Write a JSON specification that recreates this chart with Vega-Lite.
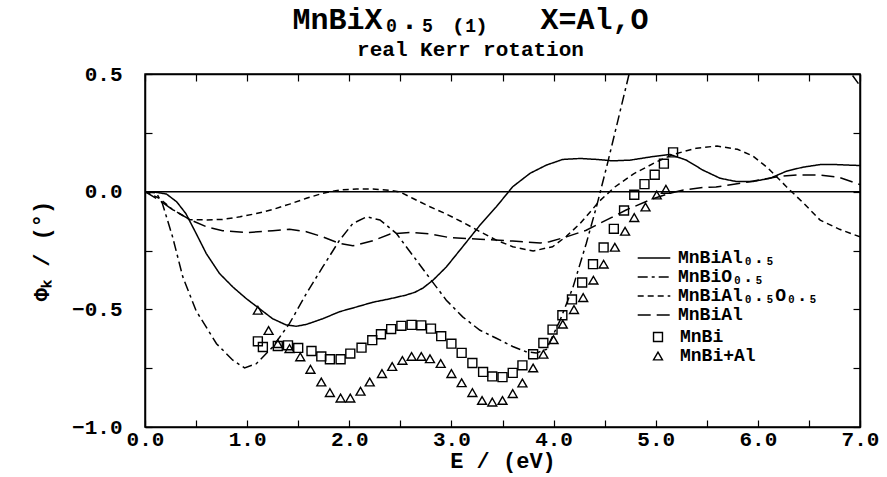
{
  "$schema": "https://vega.github.io/schema/vega-lite/v6.json",
  "width": 715,
  "height": 353,
  "autosize": {"type": "none"},
  "padding": {"left": 145, "top": 74, "right": 27, "bottom": 50},
  "background": "white",
  "title": {
    "text": "MnBiX₀.₅ ₍₁₎\u00a0\u00a0\u00a0X=Al,O",
    "subtitle": "real Kerr rotation",
    "anchor": "middle",
    "dx": -32,
    "font": "Liberation Mono",
    "fontWeight": "bold",
    "fontSize": 30,
    "color": "black",
    "subtitleFont": "Liberation Mono",
    "subtitleFontWeight": "bold",
    "subtitleFontSize": 21,
    "subtitleColor": "black",
    "subtitlePadding": 4,
    "offset": 3
  },
  "config": {
    "view": {"stroke": "black", "strokeWidth": 1.5},
    "axis": {
      "grid": false,
      "domainColor": "black",
      "domainWidth": 1.5,
      "tickColor": "black",
      "tickWidth": 1.2,
      "tickSize": -7,
      "labelFont": "Liberation Mono",
      "labelFontWeight": "bold",
      "labelFontSize": 21,
      "labelColor": "black",
      "labelOverlap": false,
      "labelFlush": false,
      "titleFont": "Liberation Mono",
      "titleFontWeight": "bold",
      "titleFontSize": 22,
      "titleColor": "black"
    }
  },
  "datasets": {
    "curves": [
      {"E": 0, "phi": 0, "series": "MnBiAl₀.₅"},
      {"E": 0.1, "phi": -0.002, "series": "MnBiAl₀.₅"},
      {"E": 0.21, "phi": -0.01, "series": "MnBiAl₀.₅"},
      {"E": 0.31, "phi": -0.043, "series": "MnBiAl₀.₅"},
      {"E": 0.4, "phi": -0.093, "series": "MnBiAl₀.₅"},
      {"E": 0.5, "phi": -0.177, "series": "MnBiAl₀.₅"},
      {"E": 0.6, "phi": -0.263, "series": "MnBiAl₀.₅"},
      {"E": 0.73, "phi": -0.348, "series": "MnBiAl₀.₅"},
      {"E": 0.86, "phi": -0.405, "series": "MnBiAl₀.₅"},
      {"E": 0.99, "phi": -0.454, "series": "MnBiAl₀.₅"},
      {"E": 1.12, "phi": -0.497, "series": "MnBiAl₀.₅"},
      {"E": 1.25, "phi": -0.54, "series": "MnBiAl₀.₅"},
      {"E": 1.38, "phi": -0.566, "series": "MnBiAl₀.₅"},
      {"E": 1.48, "phi": -0.572, "series": "MnBiAl₀.₅"},
      {"E": 1.58, "phi": -0.564, "series": "MnBiAl₀.₅"},
      {"E": 1.74, "phi": -0.54, "series": "MnBiAl₀.₅"},
      {"E": 1.905, "phi": -0.51, "series": "MnBiAl₀.₅"},
      {"E": 2.07, "phi": -0.49, "series": "MnBiAl₀.₅"},
      {"E": 2.23, "phi": -0.47, "series": "MnBiAl₀.₅"},
      {"E": 2.4, "phi": -0.455, "series": "MnBiAl₀.₅"},
      {"E": 2.55, "phi": -0.44, "series": "MnBiAl₀.₅"},
      {"E": 2.64, "phi": -0.428, "series": "MnBiAl₀.₅"},
      {"E": 2.72, "phi": -0.41, "series": "MnBiAl₀.₅"},
      {"E": 2.82, "phi": -0.376, "series": "MnBiAl₀.₅"},
      {"E": 2.95, "phi": -0.32, "series": "MnBiAl₀.₅"},
      {"E": 3.11, "phi": -0.234, "series": "MnBiAl₀.₅"},
      {"E": 3.28, "phi": -0.142, "series": "MnBiAl₀.₅"},
      {"E": 3.44, "phi": -0.064, "series": "MnBiAl₀.₅"},
      {"E": 3.6, "phi": 0.021, "series": "MnBiAl₀.₅"},
      {"E": 3.77, "phi": 0.078, "series": "MnBiAl₀.₅"},
      {"E": 3.93, "phi": 0.113, "series": "MnBiAl₀.₅"},
      {"E": 4.09, "phi": 0.137, "series": "MnBiAl₀.₅"},
      {"E": 4.26, "phi": 0.141, "series": "MnBiAl₀.₅"},
      {"E": 4.42, "phi": 0.137, "series": "MnBiAl₀.₅"},
      {"E": 4.58, "phi": 0.131, "series": "MnBiAl₀.₅"},
      {"E": 4.75, "phi": 0.134, "series": "MnBiAl₀.₅"},
      {"E": 4.97, "phi": 0.149, "series": "MnBiAl₀.₅"},
      {"E": 5.14, "phi": 0.158, "series": "MnBiAl₀.₅"},
      {"E": 5.3, "phi": 0.134, "series": "MnBiAl₀.₅"},
      {"E": 5.46, "phi": 0.092, "series": "MnBiAl₀.₅"},
      {"E": 5.63, "phi": 0.057, "series": "MnBiAl₀.₅"},
      {"E": 5.79, "phi": 0.043, "series": "MnBiAl₀.₅"},
      {"E": 5.95, "phi": 0.043, "series": "MnBiAl₀.₅"},
      {"E": 6.12, "phi": 0.057, "series": "MnBiAl₀.₅"},
      {"E": 6.28, "phi": 0.087, "series": "MnBiAl₀.₅"},
      {"E": 6.44, "phi": 0.104, "series": "MnBiAl₀.₅"},
      {"E": 6.61, "phi": 0.115, "series": "MnBiAl₀.₅"},
      {"E": 6.77, "phi": 0.115, "series": "MnBiAl₀.₅"},
      {"E": 7.0, "phi": 0.111, "series": "MnBiAl₀.₅"},

      {"E": 0, "phi": 0, "series": "MnBiO₀.₅"},
      {"E": 0.11, "phi": -0.005, "series": "MnBiO₀.₅"},
      {"E": 0.17, "phi": -0.05, "series": "MnBiO₀.₅"},
      {"E": 0.27, "phi": -0.192, "series": "MnBiO₀.₅"},
      {"E": 0.37, "phi": -0.362, "series": "MnBiO₀.₅"},
      {"E": 0.5, "phi": -0.506, "series": "MnBiO₀.₅"},
      {"E": 0.7, "phi": -0.646, "series": "MnBiO₀.₅"},
      {"E": 0.86, "phi": -0.716, "series": "MnBiO₀.₅"},
      {"E": 0.975, "phi": -0.749, "series": "MnBiO₀.₅"},
      {"E": 1.09, "phi": -0.731, "series": "MnBiO₀.₅"},
      {"E": 1.25, "phi": -0.66, "series": "MnBiO₀.₅"},
      {"E": 1.415, "phi": -0.56, "series": "MnBiO₀.₅"},
      {"E": 1.58, "phi": -0.433, "series": "MnBiO₀.₅"},
      {"E": 1.74, "phi": -0.32, "series": "MnBiO₀.₅"},
      {"E": 1.905, "phi": -0.206, "series": "MnBiO₀.₅"},
      {"E": 2.035, "phi": -0.135, "series": "MnBiO₀.₅"},
      {"E": 2.17, "phi": -0.107, "series": "MnBiO₀.₅"},
      {"E": 2.3, "phi": -0.12, "series": "MnBiO₀.₅"},
      {"E": 2.46, "phi": -0.177, "series": "MnBiO₀.₅"},
      {"E": 2.62, "phi": -0.27, "series": "MnBiO₀.₅"},
      {"E": 2.79, "phi": -0.369, "series": "MnBiO₀.₅"},
      {"E": 2.95, "phi": -0.461, "series": "MnBiO₀.₅"},
      {"E": 3.11, "phi": -0.532, "series": "MnBiO₀.₅"},
      {"E": 3.28, "phi": -0.589, "series": "MnBiO₀.₅"},
      {"E": 3.44, "phi": -0.623, "series": "MnBiO₀.₅"},
      {"E": 3.6, "phi": -0.658, "series": "MnBiO₀.₅"},
      {"E": 3.73, "phi": -0.68, "series": "MnBiO₀.₅"},
      {"E": 3.83, "phi": -0.686, "series": "MnBiO₀.₅"},
      {"E": 3.93, "phi": -0.67, "series": "MnBiO₀.₅"},
      {"E": 4.06, "phi": -0.55, "series": "MnBiO₀.₅"},
      {"E": 4.19, "phi": -0.406, "series": "MnBiO₀.₅"},
      {"E": 4.32, "phi": -0.22, "series": "MnBiO₀.₅"},
      {"E": 4.42, "phi": -0.064, "series": "MnBiO₀.₅"},
      {"E": 4.52, "phi": 0.106, "series": "MnBiO₀.₅"},
      {"E": 4.615, "phi": 0.276, "series": "MnBiO₀.₅"},
      {"E": 4.745, "phi": 0.51, "series": "MnBiO₀.₅"},
      {"E": 4.9, "phi": 0.8, "series": "MnBiO₀.₅"},
      {"E": 5.1, "phi": 1.1, "series": "MnBiO₀.₅"},
      {"E": 6.7, "phi": 0.7, "series": "MnBiO₀.₅"},
      {"E": 6.9, "phi": 0.51, "series": "MnBiO₀.₅"},
      {"E": 7.0, "phi": 0.45, "series": "MnBiO₀.₅"},

      {"E": 0, "phi": 0, "series": "MnBiAl₀.₅O₀.₅"},
      {"E": 0.14, "phi": -0.028, "series": "MnBiAl₀.₅O₀.₅"},
      {"E": 0.27, "phi": -0.076, "series": "MnBiAl₀.₅O₀.₅"},
      {"E": 0.44, "phi": -0.119, "series": "MnBiAl₀.₅O₀.₅"},
      {"E": 0.6, "phi": -0.12, "series": "MnBiAl₀.₅O₀.₅"},
      {"E": 0.76, "phi": -0.118, "series": "MnBiAl₀.₅O₀.₅"},
      {"E": 0.93, "phi": -0.107, "series": "MnBiAl₀.₅O₀.₅"},
      {"E": 1.09, "phi": -0.093, "series": "MnBiAl₀.₅O₀.₅"},
      {"E": 1.25, "phi": -0.076, "series": "MnBiAl₀.₅O₀.₅"},
      {"E": 1.415, "phi": -0.053, "series": "MnBiAl₀.₅O₀.₅"},
      {"E": 1.58, "phi": -0.028, "series": "MnBiAl₀.₅O₀.₅"},
      {"E": 1.74, "phi": -0.007, "series": "MnBiAl₀.₅O₀.₅"},
      {"E": 1.905, "phi": 0.007, "series": "MnBiAl₀.₅O₀.₅"},
      {"E": 2.07, "phi": 0.011, "series": "MnBiAl₀.₅O₀.₅"},
      {"E": 2.23, "phi": 0.011, "series": "MnBiAl₀.₅O₀.₅"},
      {"E": 2.4, "phi": 0.006, "series": "MnBiAl₀.₅O₀.₅"},
      {"E": 2.5, "phi": -0.002, "series": "MnBiAl₀.₅O₀.₅"},
      {"E": 2.62, "phi": -0.028, "series": "MnBiAl₀.₅O₀.₅"},
      {"E": 2.79, "phi": -0.064, "series": "MnBiAl₀.₅O₀.₅"},
      {"E": 2.95, "phi": -0.095, "series": "MnBiAl₀.₅O₀.₅"},
      {"E": 3.11, "phi": -0.13, "series": "MnBiAl₀.₅O₀.₅"},
      {"E": 3.28, "phi": -0.17, "series": "MnBiAl₀.₅O₀.₅"},
      {"E": 3.44, "phi": -0.206, "series": "MnBiAl₀.₅O₀.₅"},
      {"E": 3.6, "phi": -0.234, "series": "MnBiAl₀.₅O₀.₅"},
      {"E": 3.8, "phi": -0.252, "series": "MnBiAl₀.₅O₀.₅"},
      {"E": 3.99, "phi": -0.234, "series": "MnBiAl₀.₅O₀.₅"},
      {"E": 4.125, "phi": -0.19, "series": "MnBiAl₀.₅O₀.₅"},
      {"E": 4.26, "phi": -0.135, "series": "MnBiAl₀.₅O₀.₅"},
      {"E": 4.45, "phi": -0.04, "series": "MnBiAl₀.₅O₀.₅"},
      {"E": 4.6, "phi": 0.02, "series": "MnBiAl₀.₅O₀.₅"},
      {"E": 4.78, "phi": 0.075, "series": "MnBiAl₀.₅O₀.₅"},
      {"E": 5.0, "phi": 0.125, "series": "MnBiAl₀.₅O₀.₅"},
      {"E": 5.17, "phi": 0.158, "series": "MnBiAl₀.₅O₀.₅"},
      {"E": 5.4, "phi": 0.185, "series": "MnBiAl₀.₅O₀.₅"},
      {"E": 5.6, "phi": 0.194, "series": "MnBiAl₀.₅O₀.₅"},
      {"E": 5.8, "phi": 0.18, "series": "MnBiAl₀.₅O₀.₅"},
      {"E": 5.95, "phi": 0.152, "series": "MnBiAl₀.₅O₀.₅"},
      {"E": 6.1, "phi": 0.1, "series": "MnBiAl₀.₅O₀.₅"},
      {"E": 6.28, "phi": 0.021, "series": "MnBiAl₀.₅O₀.₅"},
      {"E": 6.45, "phi": -0.05, "series": "MnBiAl₀.₅O₀.₅"},
      {"E": 6.61, "phi": -0.121, "series": "MnBiAl₀.₅O₀.₅"},
      {"E": 6.8, "phi": -0.16, "series": "MnBiAl₀.₅O₀.₅"},
      {"E": 7.0, "phi": -0.192, "series": "MnBiAl₀.₅O₀.₅"},

      {"E": 0, "phi": 0, "series": "MnBiAl"},
      {"E": 0.14, "phi": -0.036, "series": "MnBiAl"},
      {"E": 0.27, "phi": -0.076, "series": "MnBiAl"},
      {"E": 0.44, "phi": -0.119, "series": "MnBiAl"},
      {"E": 0.6, "phi": -0.149, "series": "MnBiAl"},
      {"E": 0.76, "phi": -0.166, "series": "MnBiAl"},
      {"E": 0.99, "phi": -0.174, "series": "MnBiAl"},
      {"E": 1.25, "phi": -0.166, "series": "MnBiAl"},
      {"E": 1.415, "phi": -0.16, "series": "MnBiAl"},
      {"E": 1.58, "phi": -0.17, "series": "MnBiAl"},
      {"E": 1.74, "phi": -0.192, "series": "MnBiAl"},
      {"E": 1.905, "phi": -0.22, "series": "MnBiAl"},
      {"E": 2.035, "phi": -0.23, "series": "MnBiAl"},
      {"E": 2.23, "phi": -0.209, "series": "MnBiAl"},
      {"E": 2.4, "phi": -0.18, "series": "MnBiAl"},
      {"E": 2.62, "phi": -0.173, "series": "MnBiAl"},
      {"E": 2.8, "phi": -0.18, "series": "MnBiAl"},
      {"E": 2.98, "phi": -0.195, "series": "MnBiAl"},
      {"E": 3.28, "phi": -0.202, "series": "MnBiAl"},
      {"E": 3.47, "phi": -0.206, "series": "MnBiAl"},
      {"E": 3.6, "phi": -0.21, "series": "MnBiAl"},
      {"E": 3.87, "phi": -0.218, "series": "MnBiAl"},
      {"E": 3.96, "phi": -0.213, "series": "MnBiAl"},
      {"E": 4.125, "phi": -0.192, "series": "MnBiAl"},
      {"E": 4.32, "phi": -0.164, "series": "MnBiAl"},
      {"E": 4.45, "phi": -0.135, "series": "MnBiAl"},
      {"E": 4.58, "phi": -0.107, "series": "MnBiAl"},
      {"E": 4.71, "phi": -0.078, "series": "MnBiAl"},
      {"E": 4.97, "phi": -0.03, "series": "MnBiAl"},
      {"E": 5.14, "phi": -0.007, "series": "MnBiAl"},
      {"E": 5.27, "phi": 0.007, "series": "MnBiAl"},
      {"E": 5.46, "phi": 0.018, "series": "MnBiAl"},
      {"E": 5.59, "phi": 0.02, "series": "MnBiAl"},
      {"E": 5.75, "phi": 0.03, "series": "MnBiAl"},
      {"E": 5.92, "phi": 0.042, "series": "MnBiAl"},
      {"E": 6.21, "phi": 0.065, "series": "MnBiAl"},
      {"E": 6.4, "phi": 0.071, "series": "MnBiAl"},
      {"E": 6.61, "phi": 0.071, "series": "MnBiAl"},
      {"E": 6.8, "phi": 0.06, "series": "MnBiAl"},
      {"E": 7.0, "phi": 0.03, "series": "MnBiAl"}
    ],
    "points": [
      {"E": 1.105, "phi": -0.636, "series": "MnBi"},
      {"E": 1.154, "phi": -0.66, "series": "MnBi"},
      {"E": 1.3, "phi": -0.656, "series": "MnBi"},
      {"E": 1.4, "phi": -0.653, "series": "MnBi"},
      {"E": 1.5, "phi": -0.664, "series": "MnBi"},
      {"E": 1.63, "phi": -0.677, "series": "MnBi"},
      {"E": 1.726, "phi": -0.7, "series": "MnBi"},
      {"E": 1.81, "phi": -0.712, "series": "MnBi"},
      {"E": 1.915, "phi": -0.712, "series": "MnBi"},
      {"E": 2.01, "phi": -0.688, "series": "MnBi"},
      {"E": 2.12, "phi": -0.663, "series": "MnBi"},
      {"E": 2.225, "phi": -0.631, "series": "MnBi"},
      {"E": 2.31, "phi": -0.606, "series": "MnBi"},
      {"E": 2.41, "phi": -0.584, "series": "MnBi"},
      {"E": 2.51, "phi": -0.57, "series": "MnBi"},
      {"E": 2.61, "phi": -0.566, "series": "MnBi"},
      {"E": 2.705, "phi": -0.568, "series": "MnBi"},
      {"E": 2.8, "phi": -0.582, "series": "MnBi"},
      {"E": 2.9, "phi": -0.614, "series": "MnBi"},
      {"E": 3.0, "phi": -0.646, "series": "MnBi"},
      {"E": 3.1, "phi": -0.685, "series": "MnBi"},
      {"E": 3.205, "phi": -0.728, "series": "MnBi"},
      {"E": 3.31, "phi": -0.766, "series": "MnBi"},
      {"E": 3.4, "phi": -0.785, "series": "MnBi"},
      {"E": 3.5, "phi": -0.788, "series": "MnBi"},
      {"E": 3.6, "phi": -0.77, "series": "MnBi"},
      {"E": 3.695, "phi": -0.738, "series": "MnBi"},
      {"E": 3.8, "phi": -0.691, "series": "MnBi"},
      {"E": 3.9, "phi": -0.643, "series": "MnBi"},
      {"E": 3.99, "phi": -0.586, "series": "MnBi"},
      {"E": 4.086, "phi": -0.525, "series": "MnBi"},
      {"E": 4.18, "phi": -0.458, "series": "MnBi"},
      {"E": 4.28, "phi": -0.386, "series": "MnBi"},
      {"E": 4.386, "phi": -0.308, "series": "MnBi"},
      {"E": 4.49, "phi": -0.237, "series": "MnBi"},
      {"E": 4.59, "phi": -0.158, "series": "MnBi"},
      {"E": 4.69, "phi": -0.08, "series": "MnBi"},
      {"E": 4.79, "phi": -0.013, "series": "MnBi"},
      {"E": 4.89, "phi": 0.032, "series": "MnBi"},
      {"E": 4.99, "phi": 0.072, "series": "MnBi"},
      {"E": 5.08, "phi": 0.119, "series": "MnBi"},
      {"E": 5.17, "phi": 0.167, "series": "MnBi"},

      {"E": 1.105, "phi": -0.504, "series": "MnBi+Al"},
      {"E": 1.21, "phi": -0.59, "series": "MnBi+Al"},
      {"E": 1.3, "phi": -0.646, "series": "MnBi+Al"},
      {"E": 1.415, "phi": -0.667, "series": "MnBi+Al"},
      {"E": 1.52, "phi": -0.702, "series": "MnBi+Al"},
      {"E": 1.62, "phi": -0.755, "series": "MnBi+Al"},
      {"E": 1.726, "phi": -0.809, "series": "MnBi+Al"},
      {"E": 1.81, "phi": -0.854, "series": "MnBi+Al"},
      {"E": 1.915, "phi": -0.877, "series": "MnBi+Al"},
      {"E": 2.01, "phi": -0.877, "series": "MnBi+Al"},
      {"E": 2.11, "phi": -0.848, "series": "MnBi+Al"},
      {"E": 2.2, "phi": -0.809, "series": "MnBi+Al"},
      {"E": 2.32, "phi": -0.773, "series": "MnBi+Al"},
      {"E": 2.42, "phi": -0.743, "series": "MnBi+Al"},
      {"E": 2.52, "phi": -0.717, "series": "MnBi+Al"},
      {"E": 2.61, "phi": -0.7, "series": "MnBi+Al"},
      {"E": 2.705, "phi": -0.7, "series": "MnBi+Al"},
      {"E": 2.79, "phi": -0.71, "series": "MnBi+Al"},
      {"E": 2.895, "phi": -0.73, "series": "MnBi+Al"},
      {"E": 3.0, "phi": -0.773, "series": "MnBi+Al"},
      {"E": 3.1, "phi": -0.812, "series": "MnBi+Al"},
      {"E": 3.205, "phi": -0.854, "series": "MnBi+Al"},
      {"E": 3.3, "phi": -0.887, "series": "MnBi+Al"},
      {"E": 3.4, "phi": -0.894, "series": "MnBi+Al"},
      {"E": 3.5, "phi": -0.887, "series": "MnBi+Al"},
      {"E": 3.6, "phi": -0.858, "series": "MnBi+Al"},
      {"E": 3.695, "phi": -0.813, "series": "MnBi+Al"},
      {"E": 3.8, "phi": -0.749, "series": "MnBi+Al"},
      {"E": 3.9, "phi": -0.691, "series": "MnBi+Al"},
      {"E": 4.0, "phi": -0.629, "series": "MnBi+Al"},
      {"E": 4.09, "phi": -0.563, "series": "MnBi+Al"},
      {"E": 4.2, "phi": -0.501, "series": "MnBi+Al"},
      {"E": 4.29, "phi": -0.45, "series": "MnBi+Al"},
      {"E": 4.39, "phi": -0.376, "series": "MnBi+Al"},
      {"E": 4.49, "phi": -0.308, "series": "MnBi+Al"},
      {"E": 4.6, "phi": -0.236, "series": "MnBi+Al"},
      {"E": 4.7, "phi": -0.168, "series": "MnBi+Al"},
      {"E": 4.79, "phi": -0.11, "series": "MnBi+Al"},
      {"E": 4.9, "phi": -0.065, "series": "MnBi+Al"},
      {"E": 5.01, "phi": -0.014, "series": "MnBi+Al"},
      {"E": 5.1, "phi": 0.01, "series": "MnBi+Al"}
    ]
  },
  "layer": [
    {
      "data": {"values": [{}]},
      "mark": {"type": "rule", "color": "black", "strokeWidth": 1.5},
      "encoding": {
        "y": {"datum": 0, "type": "quantitative", "scale": {"domain": [-1, 0.5], "nice": false}, "axis": null}
      }
    },
    {
      "data": {"name": "curves"},
      "mark": {"type": "line", "clip": true, "color": "black", "strokeWidth": 1.5},
      "encoding": {
        "x": {
          "field": "E", "type": "quantitative",
          "scale": {"domain": [0, 7], "nice": false, "zero": false},
          "axis": {
            "orient": "bottom",
            "values": [0, 0.5, 1, 1.5, 2, 2.5, 3, 3.5, 4, 4.5, 5, 5.5, 6, 6.5, 7],
            "labelExpr": "datum.value % 1 === 0 ? format(datum.value, '.1f') : ''",
            "labelPadding": 8,
            "title": "E / (eV)",
            "titlePadding": 1
          }
        },
        "y": {
          "field": "phi", "type": "quantitative",
          "scale": {"domain": [-1, 0.5], "nice": false},
          "axis": {
            "orient": "left",
            "values": [-1, -0.75, -0.5, -0.25, 0, 0.25, 0.5],
            "labelExpr": "abs(datum.value * 2 - round(datum.value * 2)) < 0.001 ? format(datum.value, '.1f') : ''",
            "labelPadding": 30,
            "title": "Φₖ / (°)",
            "titlePadding": 18
          }
        },
        "strokeDash": {
          "field": "series", "type": "nominal",
          "scale": {
            "domain": ["MnBiAl₀.₅", "MnBiO₀.₅", "MnBiAl₀.₅O₀.₅", "MnBiAl"],
            "range": [[1, 0], [10, 4, 3, 4], [6, 4], [13, 6]]
          },
          "legend": {
            "title": null,
            "orient": "none",
            "legendX": 500,
            "legendY": 175,
            "padding": 0,
            "symbolType": "M-2.5,0H2.5",
            "symbolSize": 170,
            "symbolStrokeColor": "black",
            "symbolStrokeWidth": 1.5,
            "labelFont": "Liberation Mono",
            "labelFontWeight": "bold",
            "labelFontSize": 18,
            "labelColor": "black",
            "labelOffset": 15,
            "rowPadding": 1
          }
        }
      }
    },
    {
      "data": {"name": "points"},
      "mark": {"type": "point", "filled": false, "color": "black", "strokeWidth": 1.4, "size": 80, "opacity": 1},
      "encoding": {
        "x": {
          "field": "E", "type": "quantitative",
          "scale": {"domain": [0, 7], "nice": false, "zero": false},
          "axis": {"orient": "top", "values": [0, 0.5, 1, 1.5, 2, 2.5, 3, 3.5, 4, 4.5, 5, 5.5, 6, 6.5, 7], "labels": false, "title": null}
        },
        "y": {
          "field": "phi", "type": "quantitative",
          "scale": {"domain": [-1, 0.5], "nice": false},
          "axis": {"orient": "right", "values": [-1, -0.75, -0.5, -0.25, 0, 0.25, 0.5], "labels": false, "title": null}
        },
        "shape": {
          "field": "series", "type": "nominal",
          "scale": {"domain": ["MnBi", "MnBi+Al"], "range": ["square", "triangle-up"]},
          "legend": {
            "title": null,
            "orient": "none",
            "legendX": 504,
            "legendY": 254,
            "padding": 0,
            "symbolSize": 80,
            "symbolStrokeColor": "black",
            "symbolStrokeWidth": 1.4,
            "symbolFillColor": "white",
            "labelFont": "Liberation Mono",
            "labelFontWeight": "bold",
            "labelFontSize": 18,
            "labelColor": "black",
            "labelOffset": 13,
            "rowPadding": 1
          }
        }
      }
    }
  ],
  "resolve": {"axis": {"x": "independent", "y": "independent"}}
}
